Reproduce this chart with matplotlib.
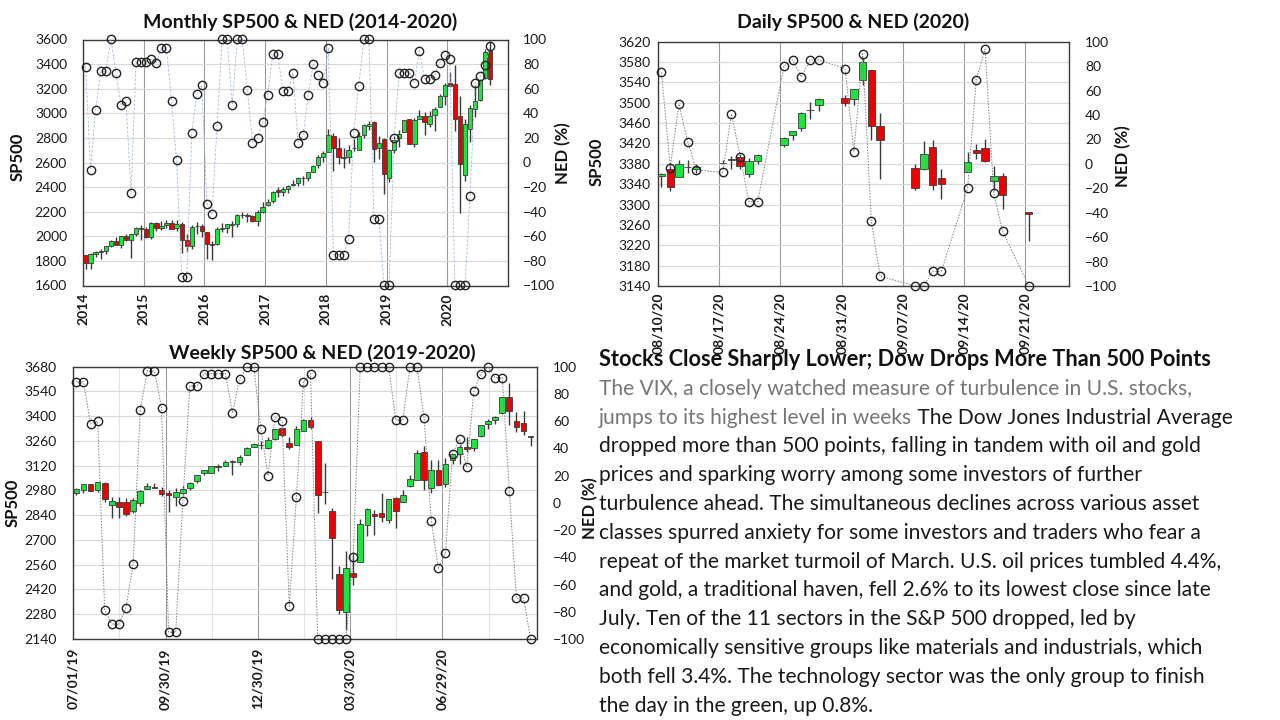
import numpy as np
import pandas as pd
import matplotlib
matplotlib.use('Agg')
import matplotlib.pyplot as plt

plt.rcParams['font.family'] = ['Lato', 'DejaVu Sans']

W, H = 1280, 720

# ---------------- Monthly data (Jan 2014 - Sep 2020) ----------------
m_years = ['2014', '2015', '2016', '2017', '2018', '2019', '2020']
m_open = [1845, 1782, 1857, 1873, 1884, 1924, 1962, 1929, 2004, 1971, 2019, 2065,
          2058, 1997, 2105, 2067, 2088, 2108, 2067, 2104, 1970, 1919, 2080, 2082,
          2038, 1937, 1937, 2057, 2067, 2094, 2100, 2173, 2171, 2164, 2128, 2200,
          2251, 2285, 2380, 2362, 2388, 2415, 2431, 2477, 2474, 2521, 2583, 2646,
          2683, 2816, 2715, 2633, 2643, 2718, 2705, 2821, 2897, 2926, 2717, 2790,
          2476, 2702, 2798, 2848, 2952, 2751, 2953, 2980, 2910, 2983, 3050, 3144,
          3244, 3235, 2974, 2499, 2869, 3038, 3105, 3289, 3507]
m_high = [1851, 1868, 1884, 1897, 1924, 1968, 1991, 2005, 2019, 2018, 2075, 2093,
          2072, 2120, 2118, 2126, 2135, 2130, 2133, 2113, 2021, 2094, 2117, 2104,
          2038, 1963, 2073, 2111, 2100, 2121, 2178, 2194, 2188, 2170, 2214, 2278,
          2301, 2371, 2401, 2398, 2419, 2454, 2484, 2491, 2520, 2582, 2658, 2695,
          2873, 2836, 2801, 2718, 2742, 2791, 2848, 2917, 2941, 2940, 2815, 2800,
          2708, 2813, 2861, 2949, 2954, 2964, 3028, 3014, 3022, 3050, 3154, 3248,
          3338, 3394, 3137, 2955, 3068, 3233, 3280, 3525, 3588]
m_low = [1738, 1737, 1834, 1815, 1859, 1915, 1930, 1905, 1964, 1821, 2001, 1973,
         1988, 1981, 2040, 2048, 2068, 2056, 2044, 1867, 1872, 1893, 2020, 1993,
         1812, 1810, 1931, 2034, 2025, 1992, 2075, 2147, 2120, 2114, 2084, 2187,
         2245, 2272, 2323, 2329, 2353, 2406, 2407, 2417, 2446, 2520, 2557, 2605,
         2683, 2533, 2586, 2553, 2595, 2691, 2698, 2803, 2864, 2604, 2631, 2346,
         2443, 2681, 2722, 2848, 2751, 2729, 2953, 2822, 2892, 2856, 3050, 3070,
         3214, 2855, 2192, 2447, 2766, 2966, 3101, 3280, 3229]
m_close = [1783, 1859, 1872, 1884, 1924, 1960, 1931, 2003, 1972, 2018, 2068, 2059,
           1995, 2105, 2068, 2086, 2107, 2063, 2104, 1972, 1920, 2079, 2080, 2044,
           1940, 1932, 2060, 2065, 2097, 2099, 2174, 2171, 2168, 2126, 2199, 2239,
           2279, 2364, 2363, 2384, 2412, 2423, 2470, 2472, 2519, 2575, 2648, 2674,
           2824, 2714, 2641, 2648, 2705, 2718, 2816, 2902, 2914, 2712, 2760, 2507,
           2704, 2784, 2834, 2946, 2752, 2942, 2980, 2926, 2977, 3038, 3141, 3231,
           3226, 2954, 2585, 2912, 3044, 3100, 3271, 3500, 3281]
m_ned = [78, -6, 43, 74, 74, 100, 73, 47, 50, -25, 82, 82,
         82, 84, 81, 93, 93, 50, 2, -93, -93, 24, 56, 63,
         -34, -42, 30, 100, 100, 47, 100, 100, 59, 16, 20, 33,
         55, 88, 88, 58, 58, 73, 16, 22, 55, 80, 71, 65,
         93, -75, -75, -75, -62, 24, 62, 100, 100, -46, -46, -100,
         -100, 20, 73, 73, 73, 65, 91, 68, 68, 71, 81, 87,
         84, -100, -100, -100, -27, 65, 70, 79, 95]

# ---------------- Daily data (Aug 10 - Sep 21, 2020) ----------------
d_dates = ['2020-08-10', '2020-08-11', '2020-08-12', '2020-08-13', '2020-08-14',
           '2020-08-17', '2020-08-18', '2020-08-19', '2020-08-20', '2020-08-21',
           '2020-08-24', '2020-08-25', '2020-08-26', '2020-08-27', '2020-08-28',
           '2020-08-31', '2020-09-01', '2020-09-02', '2020-09-03', '2020-09-04',
           '2020-09-08', '2020-09-09', '2020-09-10', '2020-09-11',
           '2020-09-14', '2020-09-15', '2020-09-16', '2020-09-17', '2020-09-18',
           '2020-09-21']
d_open = [3356, 3370, 3355, 3373, 3369, 3381, 3387, 3393, 3360, 3386,
          3418, 3436, 3450, 3485, 3495, 3510, 3507, 3544, 3565, 3454,
          3372, 3370, 3413, 3353, 3364, 3408, 3411, 3347, 3357, 3286]
d_high = [3363, 3381, 3388, 3387, 3379, 3388, 3395, 3400, 3391, 3400,
          3432, 3444, 3481, 3501, 3509, 3515, 3528, 3588, 3565, 3479,
          3380, 3425, 3426, 3369, 3403, 3419, 3429, 3375, 3362, 3286]
d_low = [3335, 3326, 3355, 3363, 3362, 3379, 3370, 3370, 3355, 3379,
         3413, 3426, 3444, 3468, 3484, 3493, 3495, 3535, 3427, 3350,
         3329, 3367, 3329, 3310, 3364, 3389, 3384, 3329, 3292, 3229]
d_close = [3360, 3334, 3380, 3373.5, 3373, 3382, 3390, 3375, 3386, 3397,
           3431, 3444, 3479, 3485, 3508, 3500, 3527, 3581, 3455, 3427,
           3332, 3399, 3339, 3341, 3384, 3401, 3385, 3357, 3319, 3281]
d_ned = [75, -3, 49, 18, -5, -7, 41, 6, -31, -31,
         80, 85, 71, 85, 85, 78, 10, 90, -47, -92,
         -100, -100, -88, -88, -20, 69, 94, -24, -55, -100]
d_ticks = ['08/10/20', '08/17/20', '08/24/20', '08/31/20', '09/07/20', '09/14/20', '09/21/20']

# ---------------- Weekly data (week of Jul 1 2019 - week of Sep 21 2020) ----------------
w_first = '2019-07-01'
w_open = [2964, 2980, 3017, 2981, 3024, 2898, 2916, 2913, 2866, 2909,
          2989, 3001, 2984, 2967, 2944, 2965, 2996, 3035, 3078, 3081,
          3117, 3117, 3143, 3141, 3183, 3227, 3240, 3218, 3271, 3333,
          3248, 3235, 3318, 3378, 3257, 2974, 2864, 2509, 2290, 2514,
          2578, 2782, 2846, 2854, 2815, 2939, 2913, 3005, 3038, 3199,
          2993, 3094, 3018, 3155, 3188, 3224, 3219, 3288, 3356, 3381,
          3418, 3509, 3372, 3364, 3286]
w_high = [2995, 3018, 3017, 3028, 3029, 2943, 2943, 2939, 2940, 2985,
          3020, 3022, 3001, 2984, 2993, 3008, 3027, 3066, 3097, 3120,
          3128, 3154, 3150, 3183, 3226, 3248, 3259, 3282, 3329, 3337,
          3285, 3347, 3385, 3393, 3260, 3137, 2882, 2553, 2637, 2632,
          2819, 2880, 2868, 2965, 2934, 2945, 2980, 3068, 3211, 3233,
          3155, 3155, 3165, 3187, 3238, 3280, 3272, 3352, 3387, 3400,
          3509, 3588, 3425, 3429, 3286]
w_low = [2952, 2966, 2975, 2971, 2914, 2822, 2825, 2834, 2853, 2891,
         2989, 2993, 2946, 2856, 2892, 2953, 2982, 3023, 3066, 3076,
         3090, 3117, 3070, 3123, 3182, 3224, 3212, 3215, 3264, 3281,
         3214, 3235, 3316, 3328, 2855, 2901, 2478, 2280, 2192, 2447,
         2578, 2721, 2728, 2801, 2798, 2766, 2913, 2999, 3038, 2984,
         2966, 3003, 3000, 3129, 3128, 3200, 3204, 3284, 3326, 3355,
         3413, 3350, 3310, 3293, 3229]
w_close = [2990, 3014, 2977, 3026, 2932, 2919, 2889, 2847, 2926, 2979,
           3007, 2992, 2962, 2952, 2970, 2986, 3023, 3067, 3093, 3120,
           3110, 3141, 3146, 3169, 3221, 3240, 3235, 3265, 3329, 3295,
           3226, 3328, 3380, 3338, 2954, 2972, 2711, 2305, 2541, 2489,
           2790, 2875, 2837, 2831, 2930, 2864, 2955, 3044, 3194, 3041,
           3098, 3009, 3130, 3185, 3225, 3216, 3271, 3351, 3373, 3397,
           3508, 3427, 3341, 3319, 3281]
w_ned = [89, 89, 58, 60, -79, -89, -89, -77, -45, 68,
         97, 97, 70, -95, -95, 1, 86, 86, 95, 95,
         95, 95, 66, 91, 100, 100, 54, 20, 63, 60,
         -76, 4, 89, 95, -100, -100, -100, -100, -100, -40,
         100, 100, 100, 100, 100, 61, 61, 100, 100, 62,
         -13, -48, -37, 36, 47, 26, 82, 95, 100, 92,
         92, 9, -70, -70, -100]
w_ticks = ['07/01/19', '09/30/19', '12/30/19', '03/30/20', '06/29/20']

# ---------------- news text ----------------
news_title = 'Stocks Close Sharply Lower; Dow Drops More Than 500 Points'
news_gray_1 = 'The VIX, a closely watched measure of turbulence in U.S. stocks,'
news_gray_2 = 'jumps to its highest level in weeks'
news_black_2 = ' The Dow Jones Industrial Average'
news_lines = ['dropped more than 500 points, falling in tandem with oil and gold',
              'prices and sparking worry among some investors of further',
              'turbulence ahead. The simultaneous declines across various asset',
              'classes spurred anxiety for some investors and traders who fear a',
              'repeat of the market turmoil of March. U.S. oil prices tumbled 4.4%,',
              'and gold, a traditional haven, fell 2.6% to its lowest close since late',
              'July. Ten of the 11 sectors in the S&P 500 dropped, led by',
              'economically sensitive groups like materials and industrials, which',
              'both fell 3.4%. The technology sector was the only group to finish',
              'the day in the green, up 0.8%.']

# ---------------- styling ----------------
GREEN = '#1fe13f'
RED = '#ee0000'
EDGE = '#3a3a3a'
TXT = '#1a1a1a'
GRAYTXT = '#767676'


def rect(l, t, r, b):
    return [l / W, 1 - b / H, (r - l) / W, (b - t) / H]


def candles(ax, x, o, h, l, c, width):
    o, h, l, c = map(np.asarray, (o, h, l, c))
    ax.vlines(x, l, h, color=EDGE, lw=1.0, zorder=2)
    up = c >= o
    colors = np.where(up, GREEN, RED)
    ax.bar(x, np.abs(c - o), width, bottom=np.minimum(o, c), color=colors,
           edgecolor=EDGE, linewidth=0.6, zorder=3)


def style(ax, ax2, lpad, rpad, xpad):
    ax.grid(axis='y', color='#d9d9d9', lw=0.8, zorder=0)
    ax.grid(axis='x', which='major', color='#9a9a9a', lw=0.8, zorder=0)
    ax.set_axisbelow(True)
    for s in ax.spines.values():
        s.set_color('#3a3a3a')
        s.set_linewidth(1.0)
    for s in ax2.spines.values():
        s.set_visible(False)
    ax.tick_params(axis='y', length=0, labelsize=10, pad=lpad, labelcolor=TXT)
    ax.tick_params(axis='x', which='both', length=0, labelsize=10, pad=xpad, labelcolor=TXT)
    ax2.tick_params(axis='y', length=0, labelsize=10, pad=rpad, labelcolor=TXT)
    ax2.set_ylim(-100, 100)
    ax2.set_yticks(np.arange(-100, 101, 20))
    for lab in ax.get_xticklabels():
        lab.set_rotation(90)
        lab.set_fontweight('bold')
        lab.set_va('top')
        lab.set_ha('center')


fig = plt.figure(figsize=(W / 100, H / 100), dpi=100)

# ---- Monthly ----
axm = fig.add_axes(rect(83, 39.5, 508, 285.5))
xm = np.arange(len(m_close)) + 0.5
candles(axm, xm, m_open, m_high, m_low, m_close, 0.85)
axm.set_xlim(0, 84)
axm.set_ylim(1600, 3600)
axm.set_yticks(np.arange(1600, 3601, 200))
axm.set_xticks(np.arange(len(m_years)) * 12)
axm.set_xticklabels(m_years)
axm2 = axm.twinx()
axm2.plot(xm, m_ned, ls=(0, (3, 2)), color='#a3b8e2', lw=0.6, zorder=4)
axm2.plot(xm, m_ned, ls='none', marker='o', ms=6, mfc='none', mec='#222222', mew=1.0, zorder=5, clip_on=False)
style(axm, axm2, 11.5, 10.8, 5.4)

# ---- Daily ----
axd = fig.add_axes(rect(658, 41.7, 1069, 286))
d_days = (pd.to_datetime(d_dates) - pd.Timestamp(d_dates[0])).days.values
xd = d_days + 0.4
candles(axd, xd, d_open, d_high, d_low, d_close, 0.85)
axd.set_xlim(0, 47)
axd.set_ylim(3140, 3620)
axd.set_yticks(np.arange(3140, 3621, 40))
axd.set_xticks(np.arange(len(d_ticks)) * 7)
axd.set_xticklabels(d_ticks)
axd2 = axd.twinx()
axd2.plot(xd, d_ned, ls=(0, (1.5, 1.5)), color='#808080', lw=0.7, zorder=4)
axd2.plot(xd, d_ned, ls='none', marker='o', ms=6, mfc='none', mec='#222222', mew=1.0, zorder=5, clip_on=False)
style(axd, axd2, 5.5, 11.5, 4.5)

# ---- Weekly ----
axw = fig.add_axes(rect(73.3, 366.7, 536.7, 639))
w_dates = pd.date_range(w_first, periods=len(w_close), freq='7D')
w_days = (w_dates - w_dates[0]).days.values
xw = w_days + 3
candles(axw, xw, w_open, w_high, w_low, w_close, 5.6)
axw.set_xlim(0, 457)
axw.set_ylim(2140, 3680)
axw.set_yticks(np.arange(2140, 3681, 140))
axw.set_xticks(np.arange(len(w_ticks)) * 91)
axw.set_xticks(np.arange(len(w_ticks)) * 91 + 45.5, minor=True)
axw.set_xticklabels(w_ticks)
axw.grid(axis='x', which='minor', color='#e3e3e3', lw=0.8)
axw2 = axw.twinx()
axw2.plot(xw, w_ned, ls=(0, (1.5, 1.5)), color='#808080', lw=0.7, zorder=4)
axw2.plot(xw, w_ned, ls='none', marker='o', ms=6, mfc='none', mec='#222222', mew=1.0, zorder=5, clip_on=False)
style(axw, axw2, 12, 11.7, 6.5)

# ---- titles & axis labels ----
tkw = dict(fontsize=14, fontweight='bold', ha='center', va='center', color='#111111')
fig.text(300 / W, 1 - 22 / H, 'Monthly SP500 & NED (2014-2020)', **tkw)
fig.text(853 / W, 1 - 22 / H, 'Daily SP500 & NED (2020)', **tkw)
fig.text(322 / W, 1 - 353 / H, 'Weekly SP500 & NED (2019-2020)', **tkw)

lkw = dict(fontsize=12, fontweight='bold', ha='center', va='center', rotation=90, color='#111111')
fig.text(18 / W, 1 - 157 / H, 'SP500', **lkw)
fig.text(563 / W, 1 - 153 / H, 'NED (%)', **lkw)
fig.text(597 / W, 1 - 162 / H, 'SP500', **lkw)
fig.text(1123 / W, 1 - 156 / H, 'NED (%)', **lkw)
fig.text(13 / W, 1 - 503 / H, 'SP500', **lkw)
fig.text(590 / W, 1 - 508 / H, 'NED (%)', **lkw)

# ---- news text block ----
X0 = 599
Y0 = 360
DY = 28.8
fig.canvas.draw()
r = fig.canvas.get_renderer()
probe = fig.text(0, 0, news_gray_2 + news_black_2, fontsize=14)
pw = probe.get_window_extent(r).width
probe.remove()
body_fs = 14 * 638 / pw
probe = fig.text(0, 0, news_title, fontsize=14, fontweight='bold')
tw = probe.get_window_extent(r).width
probe.remove()
title_fs = 14 * 614 / tw

fig.text(X0 / W, 1 - Y0 / H, news_title, fontsize=title_fs, fontweight='bold',
         color='#111111', ha='left', va='center')
fig.text(X0 / W, 1 - (Y0 + DY) / H, news_gray_1, fontsize=body_fs, color=GRAYTXT, ha='left', va='center')
t1 = fig.text(X0 / W, 1 - (Y0 + 2 * DY) / H, news_gray_2, fontsize=body_fs, color=GRAYTXT, ha='left', va='center')
bb = t1.get_window_extent(r)
fig.text(bb.x1 / W, 1 - (Y0 + 2 * DY) / H, news_black_2, fontsize=body_fs, color=TXT, ha='left', va='center')
for k, line in enumerate(news_lines):
    fig.text(X0 / W, 1 - (Y0 + (3 + k) * DY) / H, line, fontsize=body_fs, color=TXT, ha='left', va='center')

fig.savefig('out.png', dpi=100)
